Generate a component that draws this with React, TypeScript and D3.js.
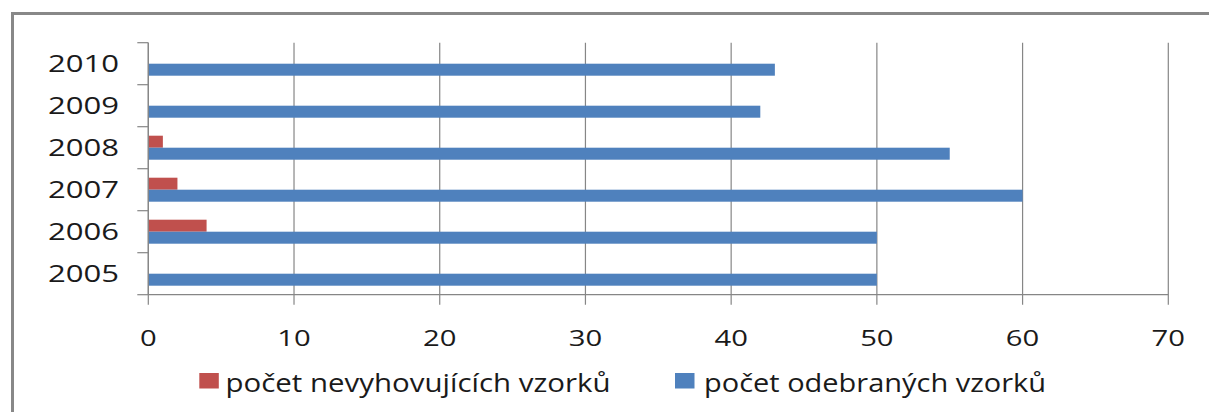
import React from 'react';
import * as d3 from 'd3';

const years = ['2005', '2006', '2007', '2008', '2009', '2010'];
const failedSamples = [0, 4, 2, 1, 0, 0];
const takenSamples = [50, 50, 60, 55, 42, 43];
const seriesNames = ['počet nevyhovujících vzorků', 'počet odebraných vzorků'];
const seriesColors = ['#C0504D', '#4F81BD'];
const xTicks = [0, 10, 20, 30, 40, 50, 60, 70];

export default function App() {
  const width = 1209;
  const height = 412;
  const plot = { left: 148.3, right: 1168.3, top: 42.7, bottom: 294.7 };
  const font = '"Open Sans", "Noto Sans", sans-serif';
  const grid = '#868686';

  const x = d3.scaleLinear().domain([0, 70]).range([plot.left, plot.right]);
  // 2010 at the top, as Excel draws horizontal bars
  const y = d3.scaleBand()
    .domain(years.slice().reverse())
    .range([plot.top, plot.bottom])
    .paddingInner(0.4286)
    .paddingOuter(0.2143);
  const sub = d3.scaleBand().domain(['0', '1']).range([0, y.bandwidth()]);
  const step = y.step();

  const series = [failedSamples, takenSamples];
  const legendPos = [
    { sx: 199.3, tx: 225.5, tl: 385 },
    { sx: 675, tx: 704, tl: 342 },
  ];

  return (
    <svg width={width} height={height} style={{ position: 'absolute', left: 0, top: 0, background: '#fff' }}>
      <rect x={0} y={0} width={width} height={height} fill="#fff" />
      {/* outer chart frame, running off the right and bottom */}
      <rect x={12.5} y={13.5} width={1400} height={600} fill="none" stroke="#888" strokeWidth={3} />

      {/* vertical gridlines */}
      {xTicks.map(t => (
        <line key={'g' + t} x1={x(t)} x2={x(t)} y1={plot.top} y2={plot.bottom + 10}
          stroke={grid} strokeWidth={1.2} />
      ))}

      {/* bars */}
      {series.map((vals, si) => years.map((yr, i) => (
        vals[i] > 0 ? (
          <rect key={si + yr} x={x(0)} y={(y(yr) as number) + (sub(String(si)) as number)}
            width={x(vals[i]) - x(0)} height={sub.bandwidth()} fill={seriesColors[si]} />
        ) : null
      )))}

      {/* axes */}
      <line x1={plot.left} x2={plot.left} y1={plot.top} y2={plot.bottom} stroke={grid} strokeWidth={1.2} />
      <line x1={plot.left} x2={plot.right} y1={plot.bottom} y2={plot.bottom} stroke={grid} strokeWidth={1.2} />
      {d3.range(years.length + 1).map(i => (
        <line key={'yt' + i} x1={plot.left - 11} x2={plot.left} y1={plot.top + i * step} y2={plot.top + i * step}
          stroke={grid} strokeWidth={1.2} />
      ))}

      {/* y labels */}
      {years.map(yr => (
        <text key={'yl' + yr} x={119} y={(y(yr) as number) - y.step() * y.paddingInner() / 2 + step / 2 + 8.2}
          textAnchor="end" fontFamily={font} fontSize={23.5} fill="#1a1a1a"
          textLength={71} lengthAdjust="spacingAndGlyphs">{yr}</text>
      ))}

      {/* x labels */}
      {xTicks.map(t => (
        <text key={'xl' + t} x={x(t)} y={345.5} textAnchor="middle" fontFamily={font} fontSize={22}
          fill="#1a1a1a" textLength={String(t).length * 16.7} lengthAdjust="spacingAndGlyphs">{t}</text>
      ))}

      {/* legend */}
      {seriesNames.map((name, i) => (
        <g key={'lg' + i}>
          <rect x={legendPos[i].sx} y={373} width={19.5} height={15.5} fill={seriesColors[i]} />
          <text x={legendPos[i].tx} y={392} fontFamily={font} fontSize={26} fill="#1a1a1a"
            textLength={legendPos[i].tl} lengthAdjust="spacingAndGlyphs">{name}</text>
        </g>
      ))}
    </svg>
  );
}
